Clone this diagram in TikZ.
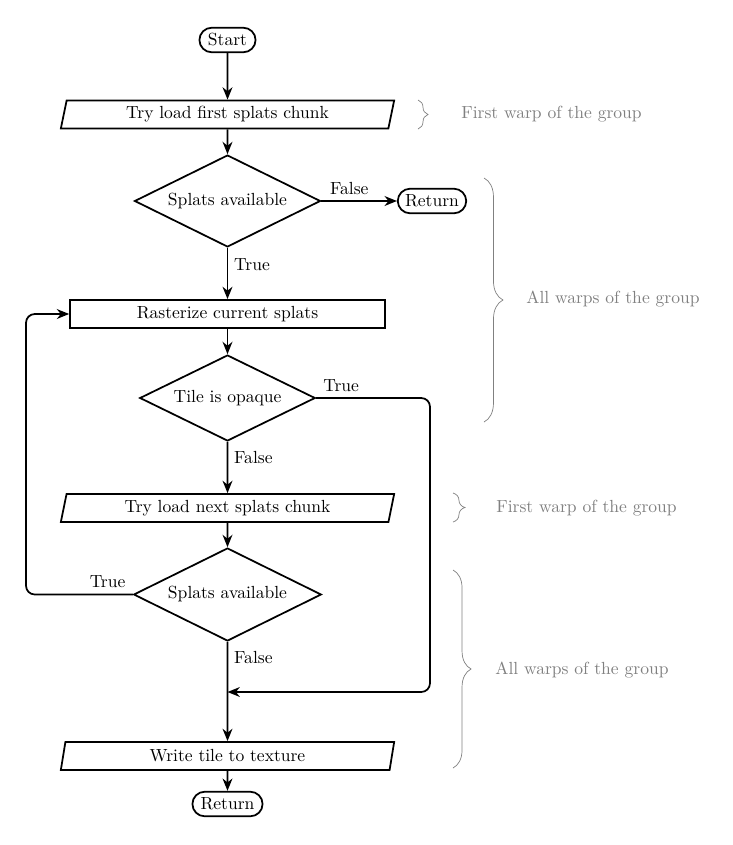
\documentclass[tikz,border=0pt]{standalone}
\usetikzlibrary{shapes.geometric,arrows.meta,decorations.pathreplacing}
\begin{document}
\begin{tikzpicture}[x=0.57pt,y=-0.57pt,
  term/.style={draw, line width=1pt, rectangle, rounded corners=7pt, minimum height=14pt, inner sep=0pt},
  io/.style={draw, line width=1pt, trapezium, trapezium left angle=70, trapezium right angle=110,
    trapezium stretches body, minimum width=190pt, minimum height=16pt, inner sep=0pt},
  proc/.style={draw, line width=1pt, rectangle, minimum width=179.5pt, minimum height=16pt, inner sep=0pt},
  dec/.style={draw, line width=1pt, diamond, aspect=2, inner sep=0pt},
  arr/.style={line width=1pt, -{Stealth[length=7pt,width=5.6pt,inset=2.2pt]}},
  brc/.style={draw=gray, thin, decorate, decoration={brace, amplitude=#1}},
  note/.style={text=gray, anchor=west, inner sep=0pt}]
\useasboundingbox (0,0) rectangle (732,845);

\node[term, minimum width=32pt] (start) at (227.5,40) {Start};
\node[io] (load1) at (227.5,114.5) {Try load first splats chunk};
\node[dec, minimum width=106pt, minimum height=52.4pt] (avail1) at (227.5,201) {Splats available};
\node[term, minimum width=39pt] (ret1) at (432,201) {Return};
\node[proc] (rast) at (227.5,314) {Rasterize current splats};
\node[dec, minimum width=100pt, minimum height=49pt] (opaque) at (227.5,398) {Tile is opaque};
\node[io] (load2) at (227.5,508) {Try load next splats chunk};
\node[dec, minimum width=107pt, minimum height=53pt] (avail2) at (227.5,594.5) {Splats available};
\node[io] (write) at (227.5,756) {Write tile to texture};
\node[term, minimum width=40pt] (ret2) at (227.5,804) {Return};

\coordinate (merge) at (227.5,692);
\coordinate (rc) at (430,692);
\coordinate (lc) at (26,314);

\draw[arr] (start) -- (load1);
\draw[arr] (load1) -- (avail1);
\draw[arr] (avail1) -- node[above, pos=0.37]{False} (ret1);
\draw[arr] (avail1) -- node[right, pos=0.33]{True} (rast);
\draw[arr] (rast) -- (opaque);
\draw[arr] (opaque) -- node[right, pos=0.3]{False} (load2);
\draw[arr, rounded corners=5pt] (opaque.east) -| node[above, pos=0.11]{True} (rc) -- (merge);
\draw[arr] (load2) -- (avail2);
\draw[arr, rounded corners=5pt] (avail2.west) -| node[above, pos=0.118]{True} (lc) -- (rast.west);
\draw[arr] (avail2) -- node[right, pos=0.155]{False} (write);
\draw[arr] (write) -- (ret2);

\draw[brc=5.7pt] (418,100) -- (418,129);
\node[note] (n1) at (461,114) {First warp of the group};
\draw[brc=10.8pt] (484,178) -- (484,422);
\node[note] (n2) at (526,299) {All warps of the group};
\draw[brc=6.8pt] (453,493) -- (453,522);
\node[note] (n3) at (496,508) {First warp of the group};
\draw[brc=10.3pt] (453,570) -- (453,768);
\node[note] (n4) at (495,670) {All warps of the group};
\end{tikzpicture}
\end{document}
